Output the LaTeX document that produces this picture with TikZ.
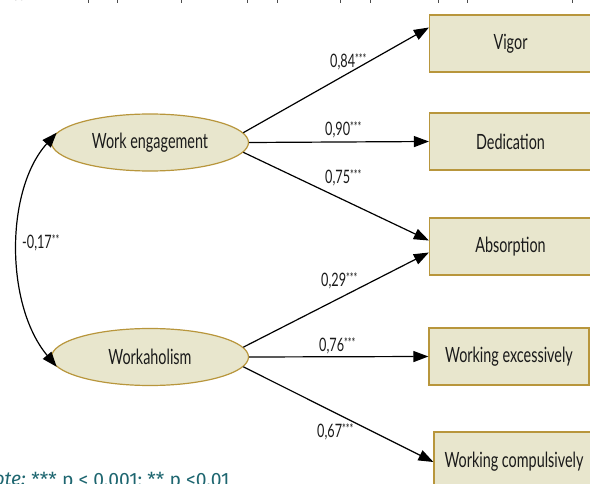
\documentclass[tikz,border=0pt]{standalone}
\usepackage{fontspec}
\setmainfont{Lato}[FakeStretch=0.685]
\newfontfamily\notefont{Fira Sans}
\usetikzlibrary{arrows.meta,shapes.geometric,calc}
\definecolor{boxfill}{HTML}{E8E6CD}
\definecolor{boxline}{HTML}{B8963C}
\definecolor{noteteal}{HTML}{1E6670}
\definecolor{ink}{HTML}{1A1A1A}
\newcommand{\sig}[1]{\raisebox{0.5ex}{\fontsize{13}{14}\selectfont #1}}
\begin{document}
\begin{tikzpicture}[x=1pt,y=-1pt,
  latent/.style={ellipse, draw=boxline, fill=boxfill, line width=1.2pt,
    minimum width=197pt, minimum height=57pt, inner sep=0pt, text=ink,
    font=\fontsize{21}{23}\selectfont},
  observed/.style={rectangle, draw=boxline, fill=boxfill, line width=1.2pt,
    minimum width=162pt, minimum height=57pt, inner sep=0pt, text=ink,
    font=\fontsize{21}{23}\selectfont},
  conn/.style={line width=1.2pt, -{Triangle[length=15pt,width=11pt]}},
  coef/.style={anchor=west, inner sep=0pt, text=ink, font=\fontsize{18.5}{20}\selectfont},
  tick/.style={line width=0.9pt, black!70}
]
\useasboundingbox (0,0) rectangle (590,484);
\clip (0,0) rectangle (590,484);

% remnants of the figure above
\foreach \tx in {88,117,181,247,277,340,370,438,467,572}
  \draw[tick] (\tx,0) -- (\tx,3);
\node[inner sep=0pt, font=\notefont\fontsize{14}{16}\selectfont, black!70] (pct) at (19,-4) {\%};

% latent variables
\node[latent] (we) at (150,142.5) {Work engagement};
\node[latent] (wh) at (150,357) {Workaholism};

% observed variables
\node[observed] (vigor) at (510.5,43.5) {Vigor};
\node[observed] (ded) at (510.5,141.5) {Dedication};
\node[observed] (abs) at (510.5,246.5) {Absorption};
\node[observed, minimum width=160pt] (wex) at (509,356.5) {Working excessively};
\node[observed, minimum width=160pt, minimum height=60pt] (wco) at (514,462) {Working compulsively};

% paths
\draw[conn] (we.6) -- ([yshift=16pt]vigor.west);
\draw[conn] (we.0) -- (ded.west);
\draw[conn] (we.-6) -- ([yshift=6pt]abs.west);
\draw[conn] (wh.6) -- ([yshift=-6pt]abs.west);
\draw[conn] (wh.0) -- (wex.west);
\draw[conn] (wh.-6) -- (wco.west);

% covariance
\draw[line width=1.2pt, {Triangle[length=15pt,width=11pt]}-{Triangle[length=15pt,width=11pt]}]
  (we.174) .. controls (5,190) and (5,305) .. (wh.186);

% coefficients
\node[coef] (c1) at (330,62) {0,84\sig{***}};
\node[coef] (c2) at (325,130) {0,90\sig{***}};
\node[coef] (c3) at (325,178) {0,75\sig{***}};
\node[coef] (c4) at (321,281) {0,29\sig{***}};
\node[coef] (c5) at (319,346) {0,76\sig{***}};
\node[coef] (c6) at (317,432) {0,67\sig{***}};
\node[coef] (c7) at (22,243) {-0,17\sig{**}};

% note
\node[anchor=north east, inner sep=0pt, font=\notefont\fontsize{19.3}{21}\selectfont, text=noteteal] (noteL) at (26,472) {\textit{Note:}};
\node[anchor=north west, inner sep=0pt, font=\notefont\fontsize{19.3}{21}\selectfont, text=noteteal] (noteR) at (noteL.north east) {\ *** p < 0.001; ** p <0.01};
\end{tikzpicture}
\end{document}
